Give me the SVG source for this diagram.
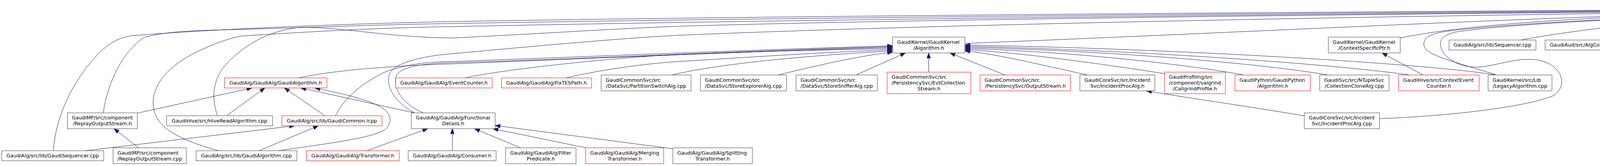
<svg xmlns="http://www.w3.org/2000/svg" width="6940" height="424" viewBox="0 0 6940 424">
<defs>
<style>
.n rect{fill:#ffffff;stroke:#404040;stroke-width:1}
.n.t rect{stroke:#ff0000}
.n.root rect{fill:#bfbfbf}
.n text{font-family:"DejaVu Sans","Liberation Sans",sans-serif;font-size:12.8px;fill:#000000}
.c{text-anchor:middle}
.l{text-anchor:start}
#edges path{fill:none;stroke:#191970;stroke-width:1;marker-end:url(#ah)}
</style>
<marker id="ah" viewBox="0 0 14 10" markerUnits="userSpaceOnUse" markerWidth="14" markerHeight="10" refX="13" refY="4.7" orient="auto" overflow="visible"><path d="M0,0 L13,4.7 L0,9.4 Z" fill="#191970" stroke="#191970" stroke-width="1"/></marker>
</defs>
<rect width="6940" height="424" fill="#ffffff"/>
<g id="edges">
<path d="M355,377.6 L292,328.7"/>
<path d="M218,385 L754,321.3"/>
<path d="M663,385 L815,321.3"/>
<path d="M713,385 C850,365 975,350 992,325 C1005,305 1000,285 965,268 C920,248 860,236 806,224.6"/>
<path d="M580,295.7 L678,224.6"/>
<path d="M351.5,289 L645,224.6"/>
<path d="M832,295.7 L728,224.6"/>
<path d="M1061,288.3 L770,224.6"/>
<path d="M939,385 L1095,328.7"/>
<path d="M1158,385 L1158,328.7"/>
<path d="M1332,377.6 L1215,328.7"/>
<path d="M1500,377.6 L1262,328.7"/>
<path d="M1722.5,380 L1267.5,320.5"/>
<path d="M137,385 C140,320 170,230 240,150 C275,110 305,95 340,91 C600,70 1000,58 1160,55 C2000,40 3500,30 4445,24"/>
<path d="M264.5,288.3 C275,210 315,130 370,95 C420,82 480,78 580,76 C800,70 1000,62 1160,60 C2000,45 3500,32 4445,25.5"/>
<path d="M560,385 C470,360 395,330 392,267 C390,210 440,160 520,125 C560,108 590,96 620,92 C800,80 1000,70 1160,68 C2000,50 3500,34 4445,27"/>
<path d="M557,295.7 C540,250 545,200 580,163 C620,120 680,80 765,70 C880,68 980,95 1160,97 C1400,85 1600,72 1740,67 C2300,50 3500,36 4445,28.5"/>
<path d="M1061,288.3 C1010,260 985,220 998,187 C1010,165 1060,145 1160,137 C1400,115 1600,97 1740,90 C2400,62 3500,42 4445,30"/>
<path d="M1083,288.3 C1025,262 1005,222 1015,192 C1030,170 1080,162 1160,160 C1500,150 1900,130 2285,119"/>
<path d="M859,295.7 C880,250 930,210 990,182 C1050,162 1100,158 1160,157 C1500,145 1900,128 2285,117"/>
<path d="M765,199 C850,180 1000,168 1160,163 C1500,150 1900,132 2285,121"/>
<path d="M1190,199 C1300,175 1600,145 1740,139 C1900,132 2100,128 2285,124"/>
<path d="M1449,199 C1550,175 1680,160 1740,157 C1900,147 2100,134 2285,127"/>
<path d="M1720,191.6 C1850,160 2100,140 2285,130"/>
<path d="M1992,191.6 C2100,165 2200,143 2285,133"/>
<path d="M2191,191.6 L2318,135.2"/>
<path d="M2377.5,184.3 L2377.5,135.2"/>
<path d="M2573,191.6 L2432,135.2"/>
<path d="M2784,191.6 C2650,162 2550,138 2470,130"/>
<path d="M2981,188 C2800,160 2600,133 2470,127"/>
<path d="M3185,191.6 C3000,158 2700,130 2470,124"/>
<path d="M3401,191.6 C3200,158 2800,128 2470,121"/>
<path d="M3609,191.6 C3400,162 2900,128 2470,118"/>
<path d="M3831,191.6 C3650,162 3000,124 2470,115"/>
<path d="M2470,111 C3300,78 4000,40 4445,33"/>
<path d="M3584.5,97 C3750,62 4100,40 4445,35"/>
<path d="M3831,191.6 C3700,150 3645,140 3645,112 C3645,90 3680,82 3720,78 C3850,62 4150,45 4445,37"/>
<path d="M3531.5,303 C3700,297 3900,275 3975,245 C4010,225 4005,180 3960,160 C3910,140 3860,160 3800,170 C3740,178 3700,150 3690,125 C3682,100 3695,90 3725,82 C3850,63 4150,47 4445,39"/>
<path d="M3339,296 C3200,272 3050,252 2935,232"/>
<path d="M3643,191.6 L3538,135.2"/>
<path d="M3894,102.2 C3960,88 4250,48 4445,41"/>
<path d="M4149,102.2 L4443,46"/>
<path d="M4369,94.8 L4480,46"/>
<path d="M4321,191.6 L4321,135.2"/>
<path d="M4536.5,94.8 L4536.5,46"/>
<path d="M4718,94.8 L4593,46"/>
<path d="M4923,102.2 L4629,46"/>
<path d="M5036,191.6 L4996,127.8"/>
<path d="M5067,191.6 C5090,160 5105,125 5095,105 C5080,80 5040,74 5000,70 C4850,55 4700,40 4629,38"/>
<path d="M5186,102.2 C5000,75 4750,45 4629,36"/>
<path d="M5451,102.2 C5200,70 4800,40 4629,34"/>
<path d="M5732,102.2 C5400,65 4900,38 4629,32"/>
<path d="M5931,94.8 C5700,65 5000,36 4629,30.5"/>
<path d="M6188,191.6 C6175,150 6160,110 6125,93 C6080,80 6000,72 5800,64 C5300,45 4800,32 4629,29"/>
<path d="M6190,94.8 C6000,55 5100,30 4629,28"/>
<path d="M6360.5,94.8 C6050,55 5200,30 4629,27"/>
<path d="M6533,94.8 C6200,58 5300,29 4629,26"/>
<path d="M6754.5,94.8 C6250,48 5400,28 4629,25"/>
<path d="M5868,191.6 L5983,135.2"/>
<path d="M6023,191.6 L6023,135.2"/>
<path d="M6158,191.6 L6060,135.2"/>
<path d="M5773,288.3 L5812,232"/>
<path d="M5742,288.3 C5715,250 5700,205 5718,183 L5931,134"/>
</g>

<g id="n_ThreadLocalContext_h" class="n root"><rect x="4445" y="5.6" width="184" height="40.4"/><text class="l" x="4456.5" y="22.6">GaudiKernel/GaudiKernel</text><text class="c" x="4537" y="37.6">/ThreadLocalContext.h</text></g>

<g id="n_Algorithm_h" class="n"><rect x="2285" y="94.8" width="185" height="40.4"/><text class="l" x="2296.5" y="111.8">GaudiKernel/GaudiKernel</text><text class="c" x="2377.5" y="126.8">/Algorithm.h</text></g>
<g id="n_ContextSpecificPtr_h" class="n"><rect x="3400.5" y="94.8" width="184" height="40.4"/><text class="l" x="3412" y="111.8">GaudiKernel/GaudiKernel</text><text class="c" x="3492.5" y="126.8">/ContextSpecificPtr.h</text></g>
<g id="n_Sequencer_cpp" class="n"><rect x="3709.5" y="102.2" width="222.5" height="25.6"/><text class="c" x="3820.75" y="119.3">GaudiAlg/src/lib/Sequencer.cpp</text></g>
<g id="n_AlgContextAuditor_cpp" class="n"><rect x="3955.5" y="102.2" width="257.5" height="25.6"/><text class="c" x="4084.25" y="119.3">GaudiAud/src/AlgContextAuditor.cpp</text></g>
<g id="n_ChronoStatSvc_h" class="n"><rect x="4238" y="94.8" width="165.5" height="40.4"/><text class="l" x="4249.5" y="111.8">GaudiCommonSvc/src</text><text class="c" x="4320.75" y="126.8">/ChronoStatSvc.h</text></g>
<g id="n_AlgExecStateSvc_cpp" class="n"><rect x="4427" y="94.8" width="219" height="40.4"/><text class="l" x="4438.5" y="111.8">GaudiCoreSvc/src/AlgExec</text><text class="c" x="4536.5" y="126.8">StateSvc/AlgExecStateSvc.cpp</text></g>
<g id="n_DataOnDemandSvc_cpp" class="n"><rect x="4669.5" y="94.8" width="203" height="40.4"/><text class="l" x="4681" y="111.8">GaudiCoreSvc/src/Incident</text><text class="c" x="4771" y="126.8">Svc/DataOnDemandSvc.cpp</text></g>
<g id="n_AlgTask_h" class="n"><rect x="4896.5" y="102.2" width="179" height="25.6"/><text class="c" x="4986" y="119.3">GaudiHive/src/AlgTask.h</text></g>
<g id="n_CPUCruncher_cpp" class="n"><rect x="5150.5" y="102.2" width="228" height="25.6"/><text class="c" x="5264.5" y="119.3">GaudiHive/src/CPUCruncher.cpp</text></g>
<g id="n_HiveTestAlgorithm_cpp" class="n"><rect x="5403" y="102.2" width="264.5" height="25.6"/><text class="c" x="5535.25" y="119.3">GaudiHive/src/HiveTestAlgorithm.cpp</text></g>
<g id="n_ViewTester_cpp" class="n"><rect x="5691.5" y="102.2" width="215" height="25.6"/><text class="c" x="5799" y="119.3">GaudiHive/src/ViewTester.cpp</text></g>
<g id="n_Message_h" class="n"><rect x="5931" y="94.8" width="184" height="40.4"/><text class="l" x="5942.5" y="111.8">GaudiKernel/GaudiKernel</text><text class="c" x="6023" y="126.8">/Message.h</text></g>
<g id="n_AlgContext_cpp" class="n"><rect x="6189.5" y="94.8" width="147" height="40.4"/><text class="l" x="6201" y="111.8">GaudiKernel/src/Lib</text><text class="c" x="6263" y="126.8">/AlgContext.cpp</text></g>
<g id="n_Incident_cpp" class="n"><rect x="6360.5" y="94.8" width="147.5" height="40.4"/><text class="l" x="6372" y="111.8">GaudiKernel/src/Lib</text><text class="c" x="6434.25" y="126.8">/Incident.cpp</text></g>
<g id="n_MinimalEventLoopMgr_cpp" class="n"><rect x="6533" y="94.8" width="197.5" height="40.4"/><text class="l" x="6544.5" y="111.8">GaudiKernel/src/Lib</text><text class="c" x="6631.75" y="126.8">/MinimalEventLoopMgr.cpp</text></g>
<g id="n_ThreadLocalContext_cpp" class="n"><rect x="6754.5" y="94.8" width="184" height="40.4"/><text class="l" x="6766" y="111.8">GaudiKernel/src/Lib</text><text class="c" x="6846.5" y="126.8">/ThreadLocalContext.cpp</text></g>

<g id="n_GaudiAlgorithm_h" class="n t"><rect x="574.5" y="199" width="262.5" height="25.6"/><text class="c" x="705.75" y="216.1">GaudiAlg/GaudiAlg/GaudiAlgorithm.h</text></g>
<g id="n_EventCounter_h" class="n t"><rect x="1013" y="199" width="247" height="25.6"/><text class="c" x="1136.5" y="216.1">GaudiAlg/GaudiAlg/EventCounter.h</text></g>
<g id="n_FixTESPath_h" class="n t"><rect x="1283.5" y="199" width="231" height="25.6"/><text class="c" x="1399" y="216.1">GaudiAlg/GaudiAlg/FixTESPath.h</text></g>
<g id="n_PartitionSwitchAlg_cpp" class="n"><rect x="1539" y="191.6" width="230" height="40.4"/><text class="l" x="1550.5" y="208.6">GaudiCommonSvc/src</text><text class="c" x="1654" y="223.6">/DataSvc/PartitionSwitchAlg.cpp</text></g>
<g id="n_StoreExplorerAlg_cpp" class="n"><rect x="1793" y="191.6" width="220.5" height="40.4"/><text class="l" x="1804.5" y="208.6">GaudiCommonSvc/src</text><text class="c" x="1903.25" y="223.6">/DataSvc/StoreExplorerAlg.cpp</text></g>
<g id="n_StoreSnifferAlg_cpp" class="n"><rect x="2038" y="191.6" width="208" height="40.4"/><text class="l" x="2049.5" y="208.6">GaudiCommonSvc/src</text><text class="c" x="2142" y="223.6">/DataSvc/StoreSnifferAlg.cpp</text></g>
<g id="n_EvtCollectionStream_h" class="n t"><rect x="2271" y="184.3" width="214.5" height="55"/><text class="l" x="2282.5" y="201.1">GaudiCommonSvc/src</text><text class="l" x="2282.5" y="216.1">/PersistencySvc/EvtCollection</text><text class="c" x="2378.25" y="231.1">Stream.h</text></g>
<g id="n_OutputStream_h" class="n t"><rect x="2509" y="191.6" width="231.5" height="40.4"/><text class="l" x="2520.5" y="208.6">GaudiCommonSvc/src</text><text class="c" x="2624.75" y="223.6">/PersistencySvc/OutputStream.h</text></g>
<g id="n_IncidentProcAlg_h" class="n"><rect x="2764.5" y="191.6" width="192" height="40.4"/><text class="l" x="2776" y="208.6">GaudiCoreSvc/src/Incident</text><text class="c" x="2860.5" y="223.6">Svc/IncidentProcAlg.h</text></g>
<g id="n_CallgrindProfile_h" class="n t"><rect x="2981" y="184.3" width="156" height="55"/><text class="l" x="2992.5" y="201.1">GaudiProfiling/src</text><text class="l" x="2992.5" y="216.1">/component/valgrind</text><text class="c" x="3059" y="231.1">/CallgrindProfile.h</text></g>
<g id="n_GaudiPython_Algorithm_h" class="n t"><rect x="3161.5" y="191.6" width="193" height="40.4"/><text class="l" x="3173" y="208.6">GaudiPython/GaudiPython</text><text class="c" x="3258" y="223.6">/Algorithm.h</text></g>
<g id="n_CollectionCloneAlg_cpp" class="n"><rect x="3378.5" y="191.6" width="177.5" height="40.4"/><text class="l" x="3390" y="208.6">GaudiSvc/src/NTupleSvc</text><text class="c" x="3467.25" y="223.6">/CollectionCloneAlg.cpp</text></g>
<g id="n_ContextEventCounter_h" class="n t"><rect x="3580.5" y="191.6" width="206" height="40.4"/><text class="l" x="3592" y="208.6">GaudiHive/src/ContextEvent</text><text class="c" x="3683.5" y="223.6">Counter.h</text></g>
<g id="n_LegacyAlgorithm_cpp" class="n"><rect x="3809.5" y="191.6" width="163.5" height="40.4"/><text class="l" x="3821" y="208.6">GaudiKernel/src/Lib</text><text class="c" x="3891.25" y="223.6">/LegacyAlgorithm.cpp</text></g>
<g id="n_ChronoStatSvc_cpp" class="n"><rect x="4238" y="191.6" width="165.5" height="40.4"/><text class="l" x="4249.5" y="208.6">GaudiCommonSvc/src</text><text class="c" x="4320.75" y="223.6">/ChronoStatSvc.cpp</text></g>
<g id="n_AvalancheSchedulerSvc_cpp" class="n"><rect x="4925.5" y="191.6" width="248.5" height="40.4"/><text class="l" x="4937" y="208.6">GaudiHive/src/AvalancheScheduler</text><text class="c" x="5049.75" y="223.6">Svc.cpp</text></g>
<g id="n_MessageSvc_h" class="n t"><rect x="5728.5" y="191.6" width="197.5" height="40.4"/><text class="l" x="5740" y="208.6">GaudiCoreSvc/src/Message</text><text class="c" x="5827.25" y="223.6">Svc/MessageSvc.h</text></g>
<g id="n_MsgStream_cpp" class="n"><rect x="5949.5" y="191.6" width="147" height="40.4"/><text class="l" x="5961" y="208.6">GaudiKernel/src/Lib</text><text class="c" x="6023" y="223.6">/MsgStream.cpp</text></g>
<g id="n_Message_cpp" class="n"><rect x="6120.5" y="191.6" width="147" height="40.4"/><text class="l" x="6132" y="208.6">GaudiKernel/src/Lib</text><text class="c" x="6194" y="223.6">/Message.cpp</text></g>

<g id="n_ReplayOutputStream_h" class="n"><rect x="172.5" y="288.3" width="179" height="40.4"/><text class="l" x="184" y="305.3">GaudiMP/src/component</text><text class="c" x="262" y="320.3">/ReplayOutputStream.h</text></g>
<g id="n_HiveReadAlgorithm_cpp" class="n"><rect x="426.5" y="295.7" width="271" height="25.6"/><text class="c" x="562" y="312.8">GaudiHive/src/HiveReadAlgorithm.cpp</text></g>
<g id="n_GaudiCommon_icpp" class="n t"><rect x="721.5" y="295.7" width="256.5" height="25.6"/><text class="c" x="849.75" y="312.8">GaudiAlg/src/lib/GaudiCommon.icpp</text></g>
<g id="n_FunctionalDetails_h" class="n"><rect x="1053" y="288.3" width="214.5" height="40.4"/><text class="l" x="1064.5" y="305.3">GaudiAlg/GaudiAlg/Functional</text><text class="c" x="1160.25" y="320.3">Details.h</text></g>
<g id="n_IncidentProcAlg_cpp" class="n"><rect x="3339" y="288.3" width="192.5" height="40.4"/><text class="l" x="3350.5" y="305.3">GaudiCoreSvc/src/Incident</text><text class="c" x="3435.25" y="320.3">Svc/IncidentProcAlg.cpp</text></g>
<g id="n_MessageSvc_cpp" class="n"><rect x="5660.5" y="288.3" width="197.5" height="40.4"/><text class="l" x="5672" y="305.3">GaudiCoreSvc/src/Message</text><text class="c" x="5759.25" y="320.3">Svc/MessageSvc.cpp</text></g>

<g id="n_GaudiSequencer_cpp" class="n"><rect x="4.5" y="385" width="261" height="25.6"/><text class="c" x="135" y="402.1">GaudiAlg/src/lib/GaudiSequencer.cpp</text></g>
<g id="n_ReplayOutputStream_cpp" class="n"><rect x="289.5" y="377.6" width="187.5" height="40.4"/><text class="l" x="301" y="394.6">GaudiMP/src/component</text><text class="c" x="383.25" y="409.6">/ReplayOutputStream.cpp</text></g>
<g id="n_GaudiAlgorithm_cpp" class="n"><rect x="502" y="385" width="258" height="25.6"/><text class="c" x="631" y="402.1">GaudiAlg/src/lib/GaudiAlgorithm.cpp</text></g>
<g id="n_Transformer_h" class="n t"><rect x="784.5" y="385" width="237.5" height="25.6"/><text class="c" x="903.25" y="402.1">GaudiAlg/GaudiAlg/Transformer.h</text></g>
<g id="n_Consumer_h" class="n"><rect x="1045" y="385" width="225" height="25.6"/><text class="c" x="1157.5" y="402.1">GaudiAlg/GaudiAlg/Consumer.h</text></g>
<g id="n_FilterPredicate_h" class="n"><rect x="1294.5" y="377.6" width="180" height="40.4"/><text class="l" x="1306" y="394.6">GaudiAlg/GaudiAlg/Filter</text><text class="c" x="1384.5" y="409.6">Predicate.h</text></g>
<g id="n_MergingTransformer_h" class="n t"><rect x="1499.5" y="377.6" width="199.5" height="40.4"/><text class="l" x="1511" y="394.6">GaudiAlg/GaudiAlg/Merging</text><text class="c" x="1599.25" y="409.6">Transformer.h</text></g>
<g id="n_SplittingTransformer_h" class="n"><rect x="1722.5" y="377.6" width="203.5" height="40.4"/><text class="l" x="1734" y="394.6">GaudiAlg/GaudiAlg/Splitting</text><text class="c" x="1824.25" y="409.6">Transformer.h</text></g>
</svg>
